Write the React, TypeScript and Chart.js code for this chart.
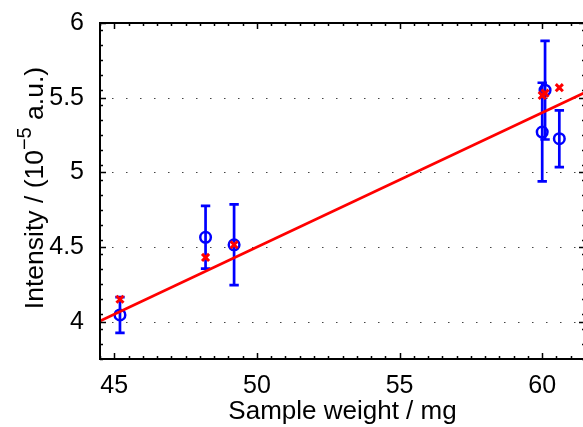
import { useEffect, useRef } from "react";
import { Chart, registerables } from "chart.js";

Chart.register(...registerables);

// ---- data ----
const sampleWeight = [45.2, 48.2, 49.2, 60.0, 60.1, 60.6];
const measuredIntensity = [4.045, 4.565, 4.515, 5.27, 5.55, 5.225];
const intensityError = [0.12, 0.21, 0.27, 0.33, 0.33, 0.19];
const predictedIntensity = [4.15, 4.43, 4.515, 5.515, 5.53, 5.567];
const fitWeight = [44.5, 61.5];
const fitIntensity = [4.005, 5.535];

const xRange = [44.5, 61.5];
const yRange = [3.75, 6];
const xTicks = [45, 50, 55, 60];
const xTickLabels = ["45", "50", "55", "60"];
const yTicks = [4, 4.5, 5, 5.5, 6];
const yTickLabels = ["4", "4.5", "5", "5.5", "6"];
const xMinorStep = 0.5;
const yMinorStep = 0.1;

const xTitle = "Sample weight / mg";
const yTitleParts = ["Intensity / (10", "\u22125", " a.u.)"];

const FONT = '"Liberation Sans", Arial, Helvetica, sans-serif';
const TICK_SIZE = 25;
const TITLE_SIZE = 26;
const YTITLE_SIZE = 26.5;

const matlabAxes = {
  id: "matlabAxes",
  beforeDatasetsDraw(chart: any) {
    const { ctx, chartArea: a, scales } = chart;
    const x = scales.x;
    const y = scales.y;
    ctx.save();
    // dotted horizontal grid
    ctx.strokeStyle = "#444";
    ctx.lineWidth = 1.2;
    ctx.setLineDash([1.5, 12.5]);
    for (const v of yTicks) {
      const py = Math.round(y.getPixelForValue(v)) + 0.5;
      if (py <= a.top + 2 || py >= a.bottom - 2) continue;
      ctx.beginPath();
      ctx.moveTo(a.left + 12, py);
      ctx.lineTo(a.right, py);
      ctx.stroke();
    }
    ctx.setLineDash([]);
    // error bars
    ctx.strokeStyle = "#0000ff";
    ctx.lineWidth = 2.7;
    sampleWeight.forEach((w, i) => {
      const px = x.getPixelForValue(w);
      const top = y.getPixelForValue(measuredIntensity[i] + intensityError[i]);
      const bot = y.getPixelForValue(measuredIntensity[i] - intensityError[i]);
      ctx.beginPath();
      ctx.moveTo(px, top);
      ctx.lineTo(px, bot);
      ctx.moveTo(px - 4.7, top);
      ctx.lineTo(px + 4.7, top);
      ctx.moveTo(px - 4.7, bot);
      ctx.lineTo(px + 4.7, bot);
      ctx.stroke();
    });
    ctx.restore();
  },
  afterDatasetsDraw(chart: any) {
    const { ctx, chartArea: a, scales } = chart;
    const x = scales.x;
    const y = scales.y;
    ctx.save();
    ctx.strokeStyle = "#000";
    ctx.lineWidth = 1.5;
    ctx.beginPath();
    for (let v = xRange[0]; v <= xRange[1] + 1e-9; v += xMinorStep) {
      const px = Math.round(x.getPixelForValue(v)) + 0.5;
      ctx.moveTo(px, a.bottom);
      ctx.lineTo(px, a.bottom - 3);
      ctx.moveTo(px, a.top);
      ctx.lineTo(px, a.top + 3);
    }
    for (let v = yRange[0]; v <= yRange[1] + 1e-9; v += yMinorStep) {
      const py = Math.round(y.getPixelForValue(v)) + 0.5;
      ctx.moveTo(a.left, py);
      ctx.lineTo(a.left + 3, py);
      ctx.moveTo(a.right, py);
      ctx.lineTo(a.right - 3, py);
    }
    for (const v of xTicks) {
      const px = Math.round(x.getPixelForValue(v)) + 0.5;
      ctx.moveTo(px, a.bottom);
      ctx.lineTo(px, a.bottom - 6);
      ctx.moveTo(px, a.top);
      ctx.lineTo(px, a.top + 6);
    }
    for (const v of yTicks) {
      const py = Math.round(y.getPixelForValue(v)) + 0.5;
      ctx.moveTo(a.left, py);
      ctx.lineTo(a.left + 6, py);
      ctx.moveTo(a.right, py);
      ctx.lineTo(a.right - 6, py);
    }
    ctx.stroke();
    ctx.lineWidth = 2;
    ctx.strokeRect(a.left, a.top, a.right - a.left, a.bottom - a.top);
    ctx.restore();
  },
  afterDraw(chart: any) {
    const { ctx, chartArea: a } = chart;
    const s = YTITLE_SIZE;
    const sub = Math.round(s * 0.74);
    ctx.save();
    ctx.translate(34, (a.top + a.bottom) / 2 - 3);
    ctx.rotate(-Math.PI / 2);
    ctx.fillStyle = "#000";
    ctx.textBaseline = "alphabetic";
    ctx.textAlign = "left";
    const mainFont = `${s}px ${FONT}`;
    const supFont = `${sub}px ${FONT}`;
    ctx.font = mainFont;
    const w1 = ctx.measureText(yTitleParts[0]).width;
    const w3 = ctx.measureText(yTitleParts[2]).width;
    ctx.font = supFont;
    const w2 = ctx.measureText(yTitleParts[1]).width;
    const total = w1 + w2 + w3;
    const base = s * 0.35;
    let cx = -total / 2;
    ctx.font = mainFont;
    ctx.fillText(yTitleParts[0], cx, base);
    cx += w1;
    ctx.font = supFont;
    ctx.fillText(yTitleParts[1], cx, base - s * 0.45);
    cx += w2;
    ctx.font = mainFont;
    ctx.fillText(yTitleParts[2], cx, base);
    ctx.restore();
  },
};

export default function App() {
  const ref = useRef<HTMLCanvasElement | null>(null);

  useEffect(() => {
    document.body.style.margin = "0";
    const canvas = ref.current;
    if (!canvas) return;
    const chart = new Chart(canvas, {
      type: "scatter",
      data: {
        datasets: [
          {
            type: "line",
            data: fitWeight.map((v, i) => ({ x: v, y: fitIntensity[i] })),
            borderColor: "#ff0000",
            borderWidth: 2.7,
            pointRadius: 0,
            fill: false,
          } as any,
          {
            data: sampleWeight.map((v, i) => ({ x: v, y: predictedIntensity[i] })),
            pointStyle: "crossRot",
            pointRadius: 5,
            borderColor: "#ff0000",
            backgroundColor: "#ff0000",
            borderWidth: 3,
          } as any,
          {
            data: sampleWeight.map((v, i) => ({ x: v, y: measuredIntensity[i] })),
            pointStyle: "circle",
            pointRadius: 5.3,
            borderColor: "#0000ff",
            backgroundColor: "rgba(0,0,0,0)",
            borderWidth: 2.5,
          } as any,
        ],
      },
      options: {
        animation: false,
        responsive: false,
        events: [],
        layout: { autoPadding: false, padding: { top: 22, right: 2, left: 0, bottom: 0 } },
        plugins: { legend: { display: false }, tooltip: { enabled: false } },
        scales: {
          x: {
            type: "linear",
            min: xRange[0],
            max: xRange[1],
            afterBuildTicks: (s: any) => {
              s.ticks = xTicks.map((v) => ({ value: v }));
            },
            afterFit: (s: any) => {
              s.height = 68;
            },
            grid: { display: false },
            border: { display: false },
            ticks: {
              padding: 4,
              color: "#000",
              font: { family: FONT, size: TICK_SIZE },
              maxRotation: 0,
              autoSkip: false,
              callback: (v: any) => xTickLabels[xTicks.indexOf(Number(v))] ?? "",
            },
            title: {
              display: true,
              text: xTitle,
              color: "#000",
              font: { family: FONT, size: TITLE_SIZE, lineHeight: 1.154 },
              padding: { top: 0, bottom: 0 },
            },
          },
          y: {
            type: "linear",
            min: yRange[0],
            max: yRange[1],
            afterBuildTicks: (s: any) => {
              s.ticks = yTicks.map((v) => ({ value: v }));
            },
            afterFit: (s: any) => {
              s.width = 100;
            },
            grid: { display: false },
            border: { display: false },
            ticks: {
              padding: 8,
              color: "#000",
              font: { family: FONT, size: TICK_SIZE },
              autoSkip: false,
              callback: (v: any) => yTickLabels[yTicks.indexOf(Number(v))] ?? "",
            },
          },
        },
      } as any,
      plugins: [matlabAxes],
    });
    return () => chart.destroy();
  }, []);

  return (
    <div
      style={{
        position: "absolute",
        left: 0,
        top: 0,
        width: 583,
        height: 427,
        overflow: "hidden",
        background: "#fff",
      }}
    >
      <canvas ref={ref} width={587} height={427} style={{ display: "block", width: 587, height: 427 }} />
    </div>
  );
}
